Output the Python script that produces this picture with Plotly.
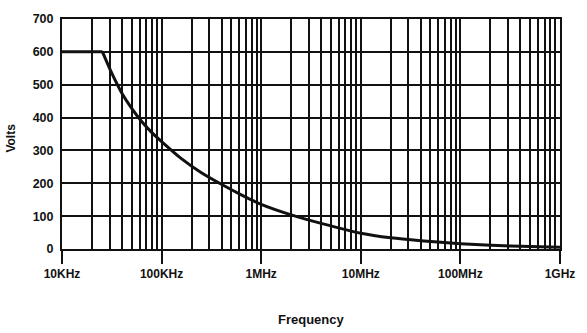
import plotly.graph_objects as go

# Maximum voltage versus frequency (log frequency axis)
freq_hz = [10e3, 25.5e3, 31.6e3, 39.8e3, 50.1e3, 63.1e3, 79.4e3, 100e3,
           158e3, 251e3, 398e3, 631e3, 1e6, 2e6, 4e6, 10e6, 20e6, 40e6,
           100e6, 316e6, 1e9]
volts = [600, 600, 535, 475, 428, 388, 355, 327,
         275, 232, 197, 165, 136, 104, 78, 48, 34, 25,
         16, 9, 5]

decade_vals = [1e4, 1e5, 1e6, 1e7, 1e8, 1e9]
decade_labels = ["10KHz", "100KHz", "1MHz", "10MHz", "100MHz", "1GHz"]
y_ticks = [0, 100, 200, 300, 400, 500, 600, 700]

# intermediate grid lines at 2..9 within each decade
minor_vals = [m * d for d in decade_vals[:-1] for m in range(2, 10)]

font_family = "Liberation Sans, Arial, sans-serif"
ink = "#111111"

fig = go.Figure()
# flat plateau, then the roll-off drawn as a smooth curve
fig.add_trace(go.Scatter(x=freq_hz[:2], y=volts[:2], mode="lines",
                         line=dict(color=ink, width=3), showlegend=False))
fig.add_trace(go.Scatter(x=freq_hz[1:], y=volts[1:], mode="lines",
                         line=dict(color=ink, width=3, shape="spline", smoothing=0.6),
                         showlegend=False))

fig.update_layout(
    width=587, height=333,
    margin=dict(l=62, r=21, t=17, b=84),
    paper_bgcolor="white", plot_bgcolor="white",
    font=dict(family=font_family, color=ink),
    xaxis=dict(
        type="log", range=[4, 9],
        tickvals=decade_vals, ticktext=decade_labels,
        ticks="outside", ticklen=13, tickwidth=2, tickcolor=ink,
        showgrid=True, gridcolor=ink, gridwidth=1.6,
        showline=True, linecolor=ink, linewidth=1.6, mirror=True,
        tickfont=dict(size=12, weight="bold", family=font_family, color=ink),
        minor=dict(tickvals=minor_vals, showgrid=True, gridcolor=ink,
                   gridwidth=1.6, ticks=""),
        zeroline=False,
    ),
    yaxis=dict(
        range=[0, 700], tickvals=y_ticks,
        ticks="", showgrid=True, gridcolor=ink, gridwidth=1.6,
        showline=True, linecolor=ink, linewidth=2, mirror=True,
        zeroline=False, ticklabelstandoff=4,
        tickfont=dict(size=12.5, weight="bold", family=font_family, color=ink),
    ),
    annotations=[
        dict(text="Frequency", xref="paper", yref="paper", x=0.5, y=-0.306,
             xanchor="center", yanchor="middle", showarrow=False,
             font=dict(size=13, weight="bold", family=font_family, color=ink)),
        dict(text="Volts", xref="paper", yref="paper", x=-0.103, y=0.483,
             xanchor="center", yanchor="middle", showarrow=False, textangle=-90,
             font=dict(size=12, weight="bold", family=font_family, color=ink)),
    ],
)

fig.write_html("out.html")
